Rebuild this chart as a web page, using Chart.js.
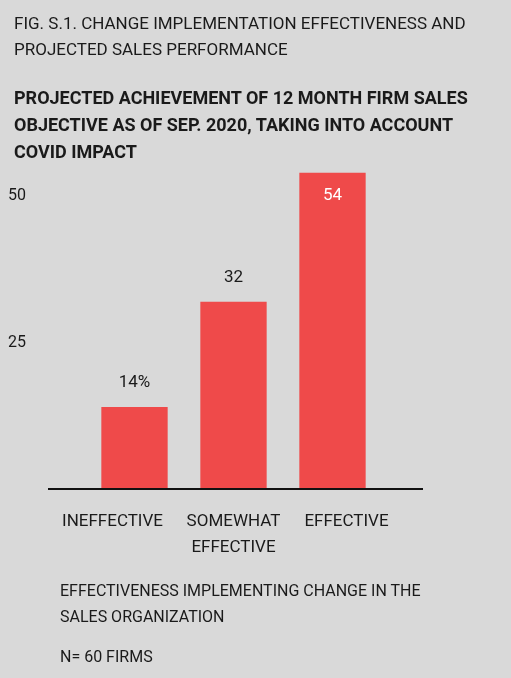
<!DOCTYPE html>
<html><head><meta charset="utf-8">
<script src="https://cdn.jsdelivr.net/npm/chart.js@4"></script>
<style>
html,body{margin:0;padding:0;background:#d9d9d9;width:511px;height:678px;overflow:hidden;font-family:Roboto,"Liberation Sans",sans-serif;color:#1a1a1a}
#wrap{position:absolute;left:0;top:0;width:511px;height:678px}
.t{position:absolute;left:14px;white-space:nowrap}
.h1{font-size:17px;line-height:26px;top:10px}
.h2{font-size:18px;font-weight:bold;line-height:27px;top:84px}
.b{position:absolute;left:60px;font-size:16px;line-height:26px}
</style></head><body>
<div id="wrap"><canvas id="c" width="511" height="678"></canvas></div>
<div class="t h1">FIG. S.1. CHANGE IMPLEMENTATION EFFECTIVENESS AND<br>PROJECTED SALES PERFORMANCE</div>
<div class="t h2">PROJECTED ACHIEVEMENT OF 12 MONTH FIRM SALES<br>OBJECTIVE AS OF SEP. 2020, TAKING INTO ACCOUNT<br>COVID IMPACT</div>
<div class="b" style="top:578px">EFFECTIVENESS IMPLEMENTING CHANGE IN THE<br>SALES ORGANIZATION</div>
<div class="b" style="top:644px">N= 60 FIRMS</div>
<script>
const categories=[["INEFFECTIVE"],["SOMEWHAT","EFFECTIVE"],["EFFECTIVE"]];
const values=[14,32,54];
const valueLabels=["14%","32","54"];
const yTicks=[25,50];
const labelShift=[-22,0,14];
const extras={id:'extras',afterDatasetsDraw(ch){
 const ctx=ch.ctx,a=ch.chartArea;
 ctx.save();ctx.strokeStyle='#111';ctx.lineWidth=2;
 ctx.beginPath();ctx.moveTo(48,a.bottom);ctx.lineTo(423,a.bottom);ctx.stroke();
 ctx.font='17px Roboto, sans-serif';ctx.textAlign='center';ctx.textBaseline='middle';
 ch.getDatasetMeta(0).data.forEach((b,i)=>{
  if(i===2){ctx.fillStyle='#fff';ctx.fillText(valueLabels[i],b.x,b.y+23);}
  else{ctx.fillStyle='#1a1a1a';ctx.fillText(valueLabels[i],b.x,b.y-24);}
  ctx.fillStyle='#1a1a1a';ctx.font='17px Roboto, sans-serif';
  categories[i].forEach((ln,j)=>ctx.fillText(ln,b.x+labelShift[i],a.bottom+33+j*26));
 });
 ctx.restore();}};
new Chart(document.getElementById('c'),{type:'bar',
 data:{labels:categories,datasets:[{data:values,backgroundColor:'#ef4a4a',barPercentage:0.67,categoryPercentage:1}]},
 options:{responsive:false,animation:false,
  layout:{padding:{left:8,right:129,top:167,bottom:0}},
  plugins:{legend:{display:false},tooltip:{enabled:false}},
  scales:{
   x:{grid:{display:false},border:{display:false},ticks:{display:false},
      afterFit(s){s.height=189;}},
   y:{min:0,max:55,grid:{display:false},border:{display:false},
      afterBuildTicks(s){s.ticks=yTicks.map(v=>({value:v}));},
      ticks:{color:'#1a1a1a',font:{size:16,family:'Roboto'},crossAlign:'far'},
      afterFit(s){s.width=77;}}
  }},
 plugins:[extras]});
</script></body></html>
